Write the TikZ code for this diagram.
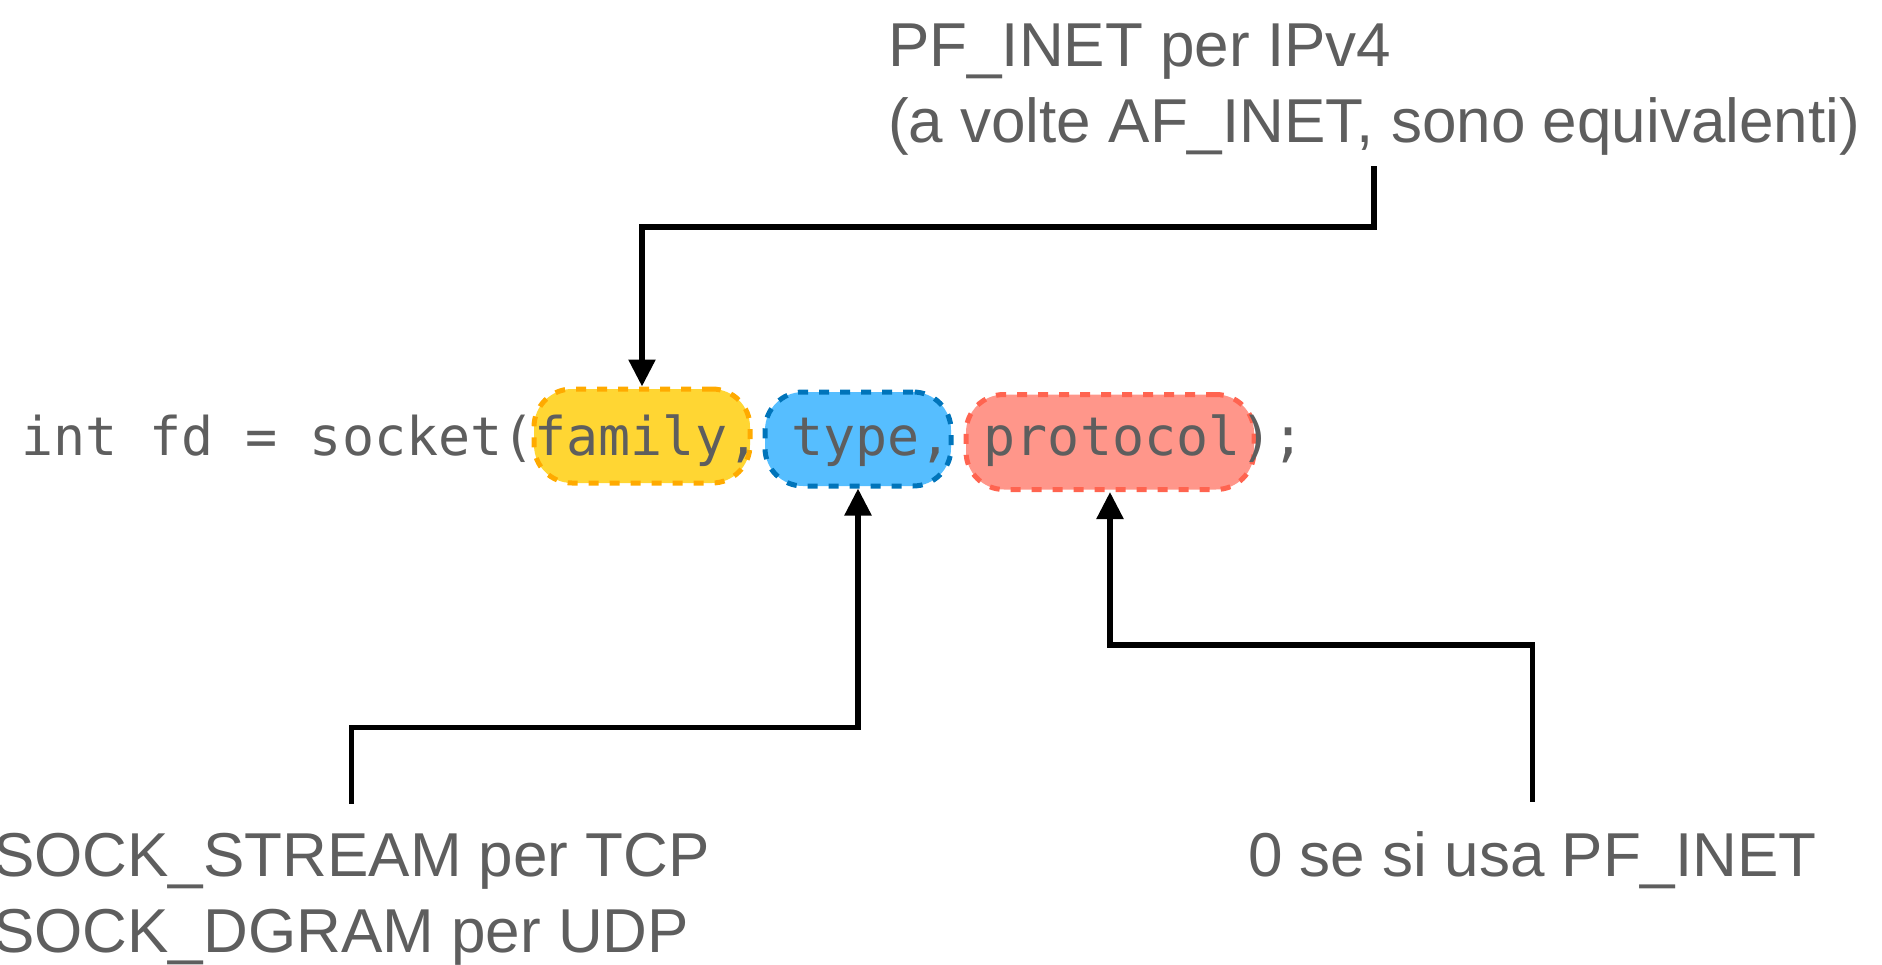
\documentclass[tikz,border=0pt]{standalone}
\usepackage{fontspec}
\setmainfont{Liberation Sans}
\newfontfamily\codefont{DejaVu Sans Mono}
\usetikzlibrary{arrows.meta,calc}
\definecolor{txt}{HTML}{5E5E5E}
\definecolor{famfill}{HTML}{FFD633}
\definecolor{famline}{HTML}{FFAA00}
\definecolor{typfill}{HTML}{56BEFF}
\definecolor{typline}{HTML}{0074BA}
\definecolor{profill}{HTML}{FF968A}
\definecolor{proline}{HTML}{FF6450}
\begin{document}
\begin{tikzpicture}[x=1pt,y=-1pt,
  lbl/.style={inner sep=0pt, text=txt, anchor=base west, font=\fontsize{62}{74}\selectfont},
  argbox/.style={draw, rounded corners=38pt, line width=5pt, dash pattern=on 10pt off 11pt, inner sep=0pt},
  link/.style={line width=5.5pt, -{Triangle[length=27pt,width=26pt]}}]
\useasboundingbox (0,0) rectangle (1882,964);

% highlighted arguments, drawn beneath the code line
\node[argbox, draw=famline, fill=famfill, minimum width=216pt, minimum height=94pt] (fam) at (642,436) {};
\node[argbox, draw=typline, fill=typfill, minimum width=186pt, minimum height=94pt] (typ) at (858,439) {};
\node[argbox, draw=proline, fill=profill, minimum width=288pt, minimum height=95pt] (proto) at (1110,442) {};

% the call itself
\node[inner sep=0pt, anchor=base west, text=txt, font=\codefont\fontsize{53.3}{60}\selectfont] (code) at (21,455) {int fd = socket(family, type, protocol);};

% explanations
\node[lbl] (pf1) at (888,66) {PF\_INET per IPv4};
\node[lbl] (pf2) at (888,142) {(a volte AF\_INET, sono equivalenti)};
\node[lbl] (sock1) at (-7,876) {SOCK\_STREAM per TCP};
\node[lbl] (sock2) at (-7,952) {SOCK\_DGRAM per UDP};
\node[lbl] (zero) at (1248,876) {0 se si usa PF\_INET};

% connectors
\draw[link] ($(pf2.south)+(0,11)$) -- ++(0,61) -| (fam.north);
\draw[link] ($(sock1.north)+(0,-29)$) -- ++(0,-76) -| (typ.south);
\draw[link] ($(zero.north)+(0,-29)$) -- ++(0,-157) -| (proto.south);
\end{tikzpicture}
\end{document}
